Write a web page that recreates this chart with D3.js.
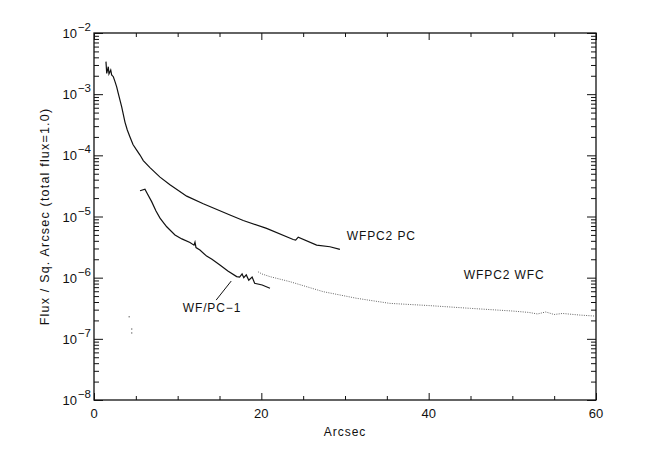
<!DOCTYPE html>
<html><head><meta charset="utf-8">
<script src="https://cdn.jsdelivr.net/npm/d3@7"></script>
<style>
html,body{margin:0;padding:0;background:#fff;}
svg{display:block;font-family:"Liberation Sans","DejaVu Sans",Arial,sans-serif;}
</style></head>
<body><svg id="c" width="647" height="464"></svg>
<script>
// ---- data ----
const pcX = [1.43,1.52,1.71,1.79,2.00,2.11,2.31,2.51,2.71,2.90,3.31,3.70,3.98,4.30,4.66,5.10,5.50,5.89,6.69,7.89,9.08,11.08,13.06,16.25,17.84,20.63,23.81,24.10,24.41,26.61,28.2,29.39];
const pcY = [3.40e-3,2.19e-3,2.81e-3,2.14e-3,2.48e-3,2.06e-3,1.93e-3,1.60e-3,1.32e-3,1.03e-3,6.2e-4,3.5e-4,2.6e-4,2.0e-4,1.5e-4,1.22e-4,1.01e-4,8.2e-5,6.3e-5,4.4e-5,3.3e-5,2.15e-5,1.62e-5,1.06e-5,8.6e-6,6.4e-6,4.2e-6,4.1e-6,4.6e-6,3.4e-6,3.2e-6,2.9e-6];

const wfpc1X = [5.50,6.09,6.33,6.89,7.41,7.89,8.69,9.68,10.5,11.47,11.95,12.07,12.19,12.66,13.46,14.1,15.05,16.0,17.05,17.4,17.7,17.9,18.2,18.5,18.9,19.2,20.1,21.03];
const wfpc1Y = [2.64e-5,2.79e-5,2.42e-5,1.75e-5,1.23e-5,9.4e-6,6.8e-6,5.0e-6,4.3e-6,3.75e-6,3.4e-6,3.8e-6,3.1e-6,2.83e-6,2.25e-6,2.0e-6,1.61e-6,1.29e-6,1.04e-6,1.02e-6,1.15e-6,1.0e-6,1.11e-6,9.1e-7,1.02e-6,8.1e-7,7.6e-7,6.7e-7];

const wfcX = [19.6,20.07,21.03,23.42,27.40,31.39,35.36,40.0,45.0,50.0,52.0,53.0,54.0,55.0,56.0,58.0,60.0];
const wfcY = [1.25e-6,1.15e-6,1.04e-6,8.6e-7,5.9e-7,4.6e-7,3.8e-7,3.5e-7,3.15e-7,2.85e-7,2.7e-7,2.55e-7,2.75e-7,2.5e-7,2.6e-7,2.45e-7,2.35e-7];

// sparse dots near r~4
const strayX = [4.2,4.5,4.5];
const strayY = [2.3e-7,1.45e-7,1.25e-7];

const xMajor = [0,20,40,60];
const xMinor = [5,10,15,25,30,35,45,50,55];
const yExp = [-2,-3,-4,-5,-6,-7,-8];

const labels = [
  {text:"WFPC2 PC", x:30.2, v:4.6e-6},
  {text:"WFPC2 WFC", x:44.2, v:1.07e-6},
  {text:"WF/PC\u22121", x:10.6, v:3.05e-7}
];
const leader = {x1:14.6, v1:4.3e-7, x2:16.4, v2:8.8e-7};

// ---- drawing ----
const svg = d3.select("#c");
const L=94, R=596, T=33, B=400;
const x = d3.scaleLinear().domain([0,60]).range([L,R]);
const y = d3.scaleLog().domain([1e-8,1e-2]).range([B,T]);

const yMinor = [];
for (let e=-8;e<-2;e++) for (let m=2;m<=9;m++) yMinor.push(m*Math.pow(10,e));

const axisStroke = "#111";
svg.append("rect").attr("x",L).attr("y",T).attr("width",R-L).attr("height",B-T)
  .attr("fill","none").attr("stroke",axisStroke).attr("stroke-width",1.3);

function styleAxis(g){ g.select(".domain").remove(); g.selectAll("line").attr("stroke",axisStroke).attr("stroke-width",1); g.selectAll("text").remove(); }

svg.append("g").attr("transform",`translate(${L},0)`).call(d3.axisLeft(y).tickValues(yExp.map(e=>Math.pow(10,e))).tickSize(-9)).call(styleAxis);
svg.append("g").attr("transform",`translate(${L},0)`).call(d3.axisLeft(y).tickValues(yMinor).tickSize(-5)).call(styleAxis);
svg.append("g").attr("transform",`translate(${R},0)`).call(d3.axisRight(y).tickValues(yExp.map(e=>Math.pow(10,e))).tickSize(-9)).call(styleAxis);
svg.append("g").attr("transform",`translate(${R},0)`).call(d3.axisRight(y).tickValues(yMinor).tickSize(-5)).call(styleAxis);
svg.append("g").attr("transform",`translate(0,${B})`).call(d3.axisBottom(x).tickValues(xMajor).tickSize(-7)).call(styleAxis);
svg.append("g").attr("transform",`translate(0,${B})`).call(d3.axisBottom(x).tickValues(xMinor).tickSize(-4)).call(styleAxis);
svg.append("g").attr("transform",`translate(0,${T})`).call(d3.axisTop(x).tickValues(xMajor).tickSize(-7)).call(styleAxis);
svg.append("g").attr("transform",`translate(0,${T})`).call(d3.axisTop(x).tickValues(xMinor).tickSize(-4)).call(styleAxis);

// y tick labels 10^n
yExp.forEach(e=>{
  const t = svg.append("text").attr("x",L-3).attr("y",y(Math.pow(10,e))+5)
    .attr("text-anchor","end").attr("font-size",13).attr("fill","#111");
  t.append("tspan").text("10");
  t.append("tspan").attr("dy",-7).attr("dx",1).attr("font-size",11.5).text("\u2212"+(-e));
});
// x tick labels
xMajor.forEach(v=>{
  svg.append("text").attr("x",x(v)).attr("y",B+18).attr("text-anchor","middle")
    .attr("font-size",13).attr("fill","#111").text(v);
});
// axis titles
svg.append("text").attr("x",(L+R)/2).attr("y",B+36).attr("text-anchor","middle")
  .attr("font-size",12).attr("letter-spacing",1).attr("fill","#111").text("Arcsec");
svg.append("text").attr("transform",`translate(49,${(T+B)/2}) rotate(-90)`)
  .attr("text-anchor","middle").attr("font-size",12.5).attr("letter-spacing",1.2).attr("fill","#111")
  .text("Flux / Sq. Arcsec (total flux=1.0)");

const line = d3.line().x(d=>x(d[0])).y(d=>y(d[1]));
const zip = (a,b)=>a.map((v,i)=>[v,b[i]]);

svg.append("path").datum(zip(pcX,pcY)).attr("d",line)
  .attr("fill","none").attr("stroke","#111").attr("stroke-width",1.2);
svg.append("path").datum(zip(wfpc1X,wfpc1Y)).attr("d",line)
  .attr("fill","none").attr("stroke","#111").attr("stroke-width",1.2);
svg.append("path").datum(zip(wfcX,wfcY)).attr("d",line)
  .attr("fill","none").attr("stroke","#666").attr("stroke-width",1).attr("stroke-dasharray","1,1.3");
svg.selectAll("rect.dot").data(zip(strayX,strayY)).enter().append("rect")
  .attr("x",d=>x(d[0])-0.6).attr("y",d=>y(d[1])-0.6).attr("width",1.3).attr("height",1.3).attr("fill","#777");

labels.forEach(l=>{
  svg.append("text").attr("x",x(l.x)).attr("y",y(l.v)).attr("font-size",12).attr("letter-spacing",0.9).attr("fill","#111")
    .attr("dominant-baseline","middle").text(l.text);
});
svg.append("line").attr("x1",x(leader.x1)).attr("y1",y(leader.v1)).attr("x2",x(leader.x2)).attr("y2",y(leader.v2))
  .attr("stroke","#111").attr("stroke-width",1);
</script></body></html>
